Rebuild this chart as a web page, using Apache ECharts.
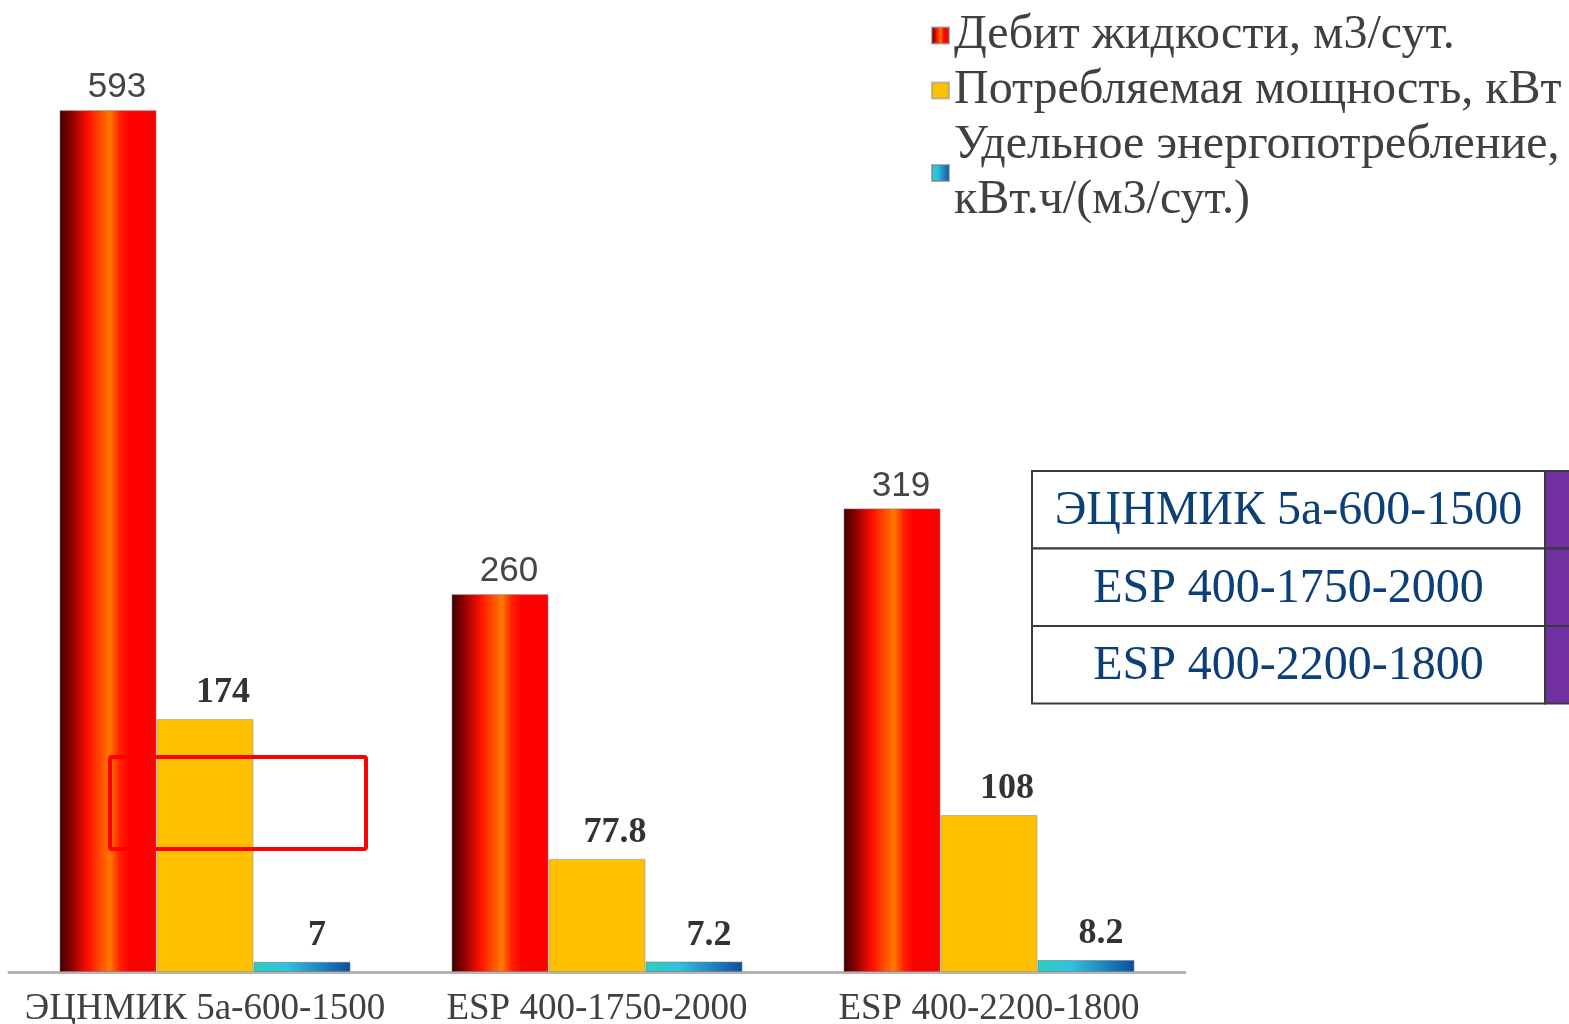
<!DOCTYPE html>
<html>
<head>
<meta charset="utf-8">
<script src="https://cdn.jsdelivr.net/npm/echarts@6/dist/echarts.min.js"></script>
<style>
html,body{margin:0;padding:0;background:#fff;}
#c{width:1569px;height:1024px;}
</style>
</head>
<body>
<div id="c"></div>
<script>
var categories = ['ЭЦНМИК 5а-600-1500', 'ESP 400-1750-2000', 'ESP 400-2200-1800'];
var seriesNames = ['Дебит жидкости, м3/сут.', 'Потребляемая мощность, кВт', 'Удельное энергопотребление,\nкВт.ч/(м3/сут.)'];
var flowRate = [593, 260, 319];
var powerUse = [174, 77.8, 108];
var specificEnergy = [7, 7.2, 8.2];
var tableRows = categories;

var chart = echarts.init(document.getElementById('c'));

var redGrad = new echarts.graphic.LinearGradient(0, 0, 1, 0, [
  {offset: 0, color: '#3a0000'},
  {offset: 0.12, color: '#8a0000'},
  {offset: 0.3, color: '#ff1000'},
  {offset: 0.52, color: '#ff7a00'},
  {offset: 0.62, color: '#ff2000'},
  {offset: 0.72, color: '#ff0000'},
  {offset: 1, color: '#ff0000'}
]);
var blueGrad = new echarts.graphic.LinearGradient(0, 0, 1, 0, [
  {offset: 0, color: '#2ad0c0'},
  {offset: 0.35, color: '#30c0e0'},
  {offset: 1, color: '#0a4fa0'}
]);
var serif = '"Liberation Serif", "Times New Roman", serif';
var sans = '"Liberation Sans", Arial, sans-serif';

var tableLeft = 1032, tableTop = 471, rowH = 77.5, divX = 1545;
var graphics = [];
tableRows.forEach(function (name, i) {
  var y = tableTop + i * rowH;
  graphics.push({type: 'rect', shape: {x: tableLeft, y: y, width: divX - tableLeft, height: rowH},
    style: {fill: '#fff', stroke: '#3a3a3a', lineWidth: 2}, z: 10});
  graphics.push({type: 'rect', shape: {x: divX, y: y, width: 1569 - divX + 5, height: rowH},
    style: {fill: '#7030a0', stroke: '#3a3a3a', lineWidth: 2}, z: 10});
  graphics.push({type: 'text', x: (tableLeft + divX) / 2, y: y + rowH / 2 + 2,
    style: {text: name, fill: '#0d3f77', font: '48px ' + serif, align: 'center', verticalAlign: 'middle'}, z: 11});
});
graphics.push({type: 'rect', shape: {x: 110, y: 757, width: 256, height: 92, r: 2},
  style: {fill: 'none', stroke: '#ff0000', lineWidth: 4}, z: 12});

chart.setOption({
  animation: false,
  backgroundColor: '#fff',
  grid: {left: 9, right: 384, top: 100, bottom: 52, containLabel: false, outerBoundsMode: 'none'},
  legend: {
    orient: 'vertical', left: 926, top: 3, itemGap: 0,
    itemWidth: 17, itemHeight: 16, icon: 'rect',
    textStyle: {fontFamily: serif, fontSize: 48, lineHeight: 55, color: '#404040'},
    data: seriesNames
  },
  xAxis: {
    type: 'category', data: categories,
    axisLine: {lineStyle: {color: '#b4b4b4', width: 3}},
    axisTick: {show: false},
    axisLabel: {interval: 0, fontFamily: serif, fontSize: 37, color: '#404040', margin: 19}
  },
  yAxis: {type: 'value', min: 0, max: 600, show: false, splitLine: {show: false}},
  graphic: graphics,
  series: [
    {name: seriesNames[0], type: 'bar', data: flowRate, barWidth: 97, barGap: '0%',
      itemStyle: {color: redGrad, borderColor: 'rgba(120,120,120,0.6)', borderWidth: 1},
      label: {show: true, position: 'top', distance: 5, offset: [9, 0], fontFamily: sans, fontSize: 35, color: '#454545'}},
    {name: seriesNames[1], type: 'bar', data: powerUse, barWidth: 97,
      itemStyle: {color: '#ffc000', borderColor: 'rgba(150,150,150,0.6)', borderWidth: 1},
      label: {show: true, position: 'top', distance: 8, offset: [18, 0], fontFamily: serif, fontWeight: 'bold', fontSize: 36, color: '#333'}},
    {name: seriesNames[2], type: 'bar', data: specificEnergy, barWidth: 97,
      itemStyle: {color: blueGrad, borderColor: 'rgba(120,120,120,0.6)', borderWidth: 1},
      label: {show: true, position: 'top', distance: 8, offset: [15, 0], fontFamily: serif, fontWeight: 'bold', fontSize: 36, color: '#333'}}
  ]
});
</script>
</body>
</html>
